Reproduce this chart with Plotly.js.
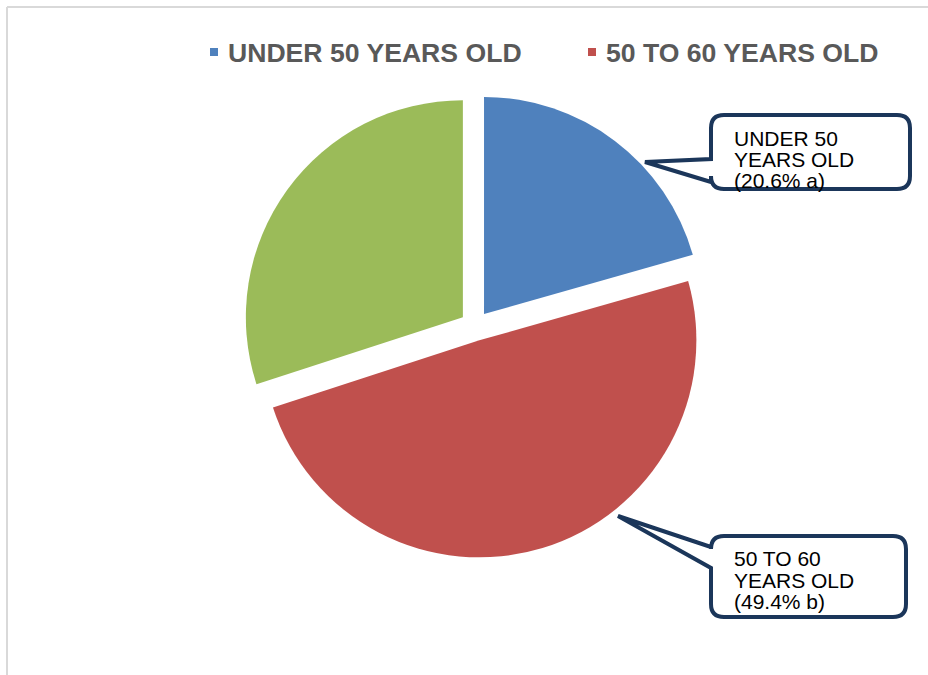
<!DOCTYPE html>
<html>
<head>
<meta charset="utf-8">
<script src="https://cdn.plot.ly/plotly-3.0.1.min.js"></script>
<style>html,body{margin:0;padding:0;background:#fff;}#chart{width:928px;height:675px;}</style>
</head>
<body>
<div id="chart"></div>
<script>
// ---- data ----
const categories = ["UNDER 50 YEARS OLD", "50 TO 60 YEARS OLD", "OVER 60 YEARS OLD"];
const shares = [20.6, 49.4, 30.0];
const letters = ["a", "b", ""];
const colors = ["#4F81BD", "#C0504D", "#9BBB59"];
const legendItems = [0, 1];          // entries visible in the (truncated) legend
const calloutItems = [0, 1];         // slices carrying a callout
const calloutLines = [
  ["UNDER 50", "YEARS OLD", "(20.6% a)"],
  ["50 TO 60", "YEARS OLD", "(49.4% b)"]
];

// ---- layout helpers ----
const W = 928, H = 675;
const px = x => x / W;
const py = y => 1 - y / H;
const font = "Arial, 'Liberation Sans', sans-serif";
const navy = "#1B365A";

function calloutPath(l, t, r, b, rad, tipX, tipY, b1, b2) {
  const P = (x, y) => px(x).toFixed(5) + "," + py(y).toFixed(5);
  return "M" + P(l + rad, t) + " L" + P(r - rad, t) + " Q" + P(r, t) + " " + P(r, t + rad) +
    " L" + P(r, b - rad) + " Q" + P(r, b) + " " + P(r - rad, b) +
    " L" + P(l + rad, b) + " Q" + P(l, b) + " " + P(l, b - rad) +
    " L" + P(l, b2) + " L" + P(tipX, tipY) + " L" + P(l, b1) +
    " L" + P(l, t + rad) + " Q" + P(l, t) + " " + P(l + rad, t) + " Z";
}

const calloutGeom = [
  {l: 711, t: 115, r: 910, b: 189, tip: [645, 162], b1: 159, b2: 182, textX: 732, lineY: [138, 159.5, 180.5]},
  {l: 711, t: 536, r: 906, b: 617, tip: [618, 516], b1: 547, b2: 568, textX: 732, lineY: [558.5, 580, 601]}
];

const shapes = [
  {type: "line", xref: "paper", yref: "paper", x0: px(7), y0: py(7), x1: px(928), y1: py(7), line: {color: "#D9D9D9", width: 2}},
  {type: "line", xref: "paper", yref: "paper", x0: px(7), y0: py(7), x1: px(7), y1: py(675), line: {color: "#D9D9D9", width: 2}}
];
const annotations = [];

// legend (manual, only the entries that are visible in the reference)
const legendPos = [{sq: 210, tx: 226}, {sq: 588, tx: 604}];
legendItems.forEach((idx, k) => {
  const lp = legendPos[k];
  shapes.push({type: "rect", xref: "paper", yref: "paper", x0: px(lp.sq), x1: px(lp.sq + 8), y0: py(48), y1: py(56),
    fillcolor: colors[idx], line: {width: 0}});
  annotations.push({xref: "paper", yref: "paper", x: px(lp.tx), y: py(53.5), xanchor: "left", yanchor: "middle",
    text: "<b>" + categories[idx] + "</b>", showarrow: false, font: {family: font, size: 26.6, color: "#595959"}});
});

// callouts
calloutItems.forEach((idx, k) => {
  const g = calloutGeom[k];
  shapes.push({type: "path", xref: "paper", yref: "paper", path: calloutPath(g.l, g.t, g.r, g.b, 13, g.tip[0], g.tip[1], g.b1, g.b2),
    fillcolor: "#FFFFFF", line: {color: navy, width: 4}, layer: "above"});
  calloutLines[k].forEach((s, j) => {
    annotations.push({xref: "paper", yref: "paper", x: px(g.textX), y: py(g.lineY[j]), xanchor: "left", yanchor: "middle",
      text: s, showarrow: false, font: {family: font, size: 21, color: "#000000"}});
  });
});

const trace = {
  type: "pie",
  labels: categories,
  values: shares,
  marker: {colors: colors, line: {width: 0}},
  sort: false,
  direction: "clockwise",
  rotation: 0,
  pull: [0.069, 0.069, 0.069],
  textinfo: "none",
  hoverinfo: "label+percent",
  showlegend: false,
  domain: {x: [243 / W, 707 / W], y: [1 - 558 / H, 1 - 94 / H]}
};

const layout = {
  width: W, height: H,
  margin: {l: 0, r: 0, t: 0, b: 0},
  paper_bgcolor: "#FFFFFF",
  plot_bgcolor: "#FFFFFF",
  showlegend: false,
  shapes: shapes,
  annotations: annotations,
  font: {family: font}
};

Plotly.newPlot("chart", [trace], layout, {displayModeBar: false, staticPlot: true});
</script>
</body>
</html>
